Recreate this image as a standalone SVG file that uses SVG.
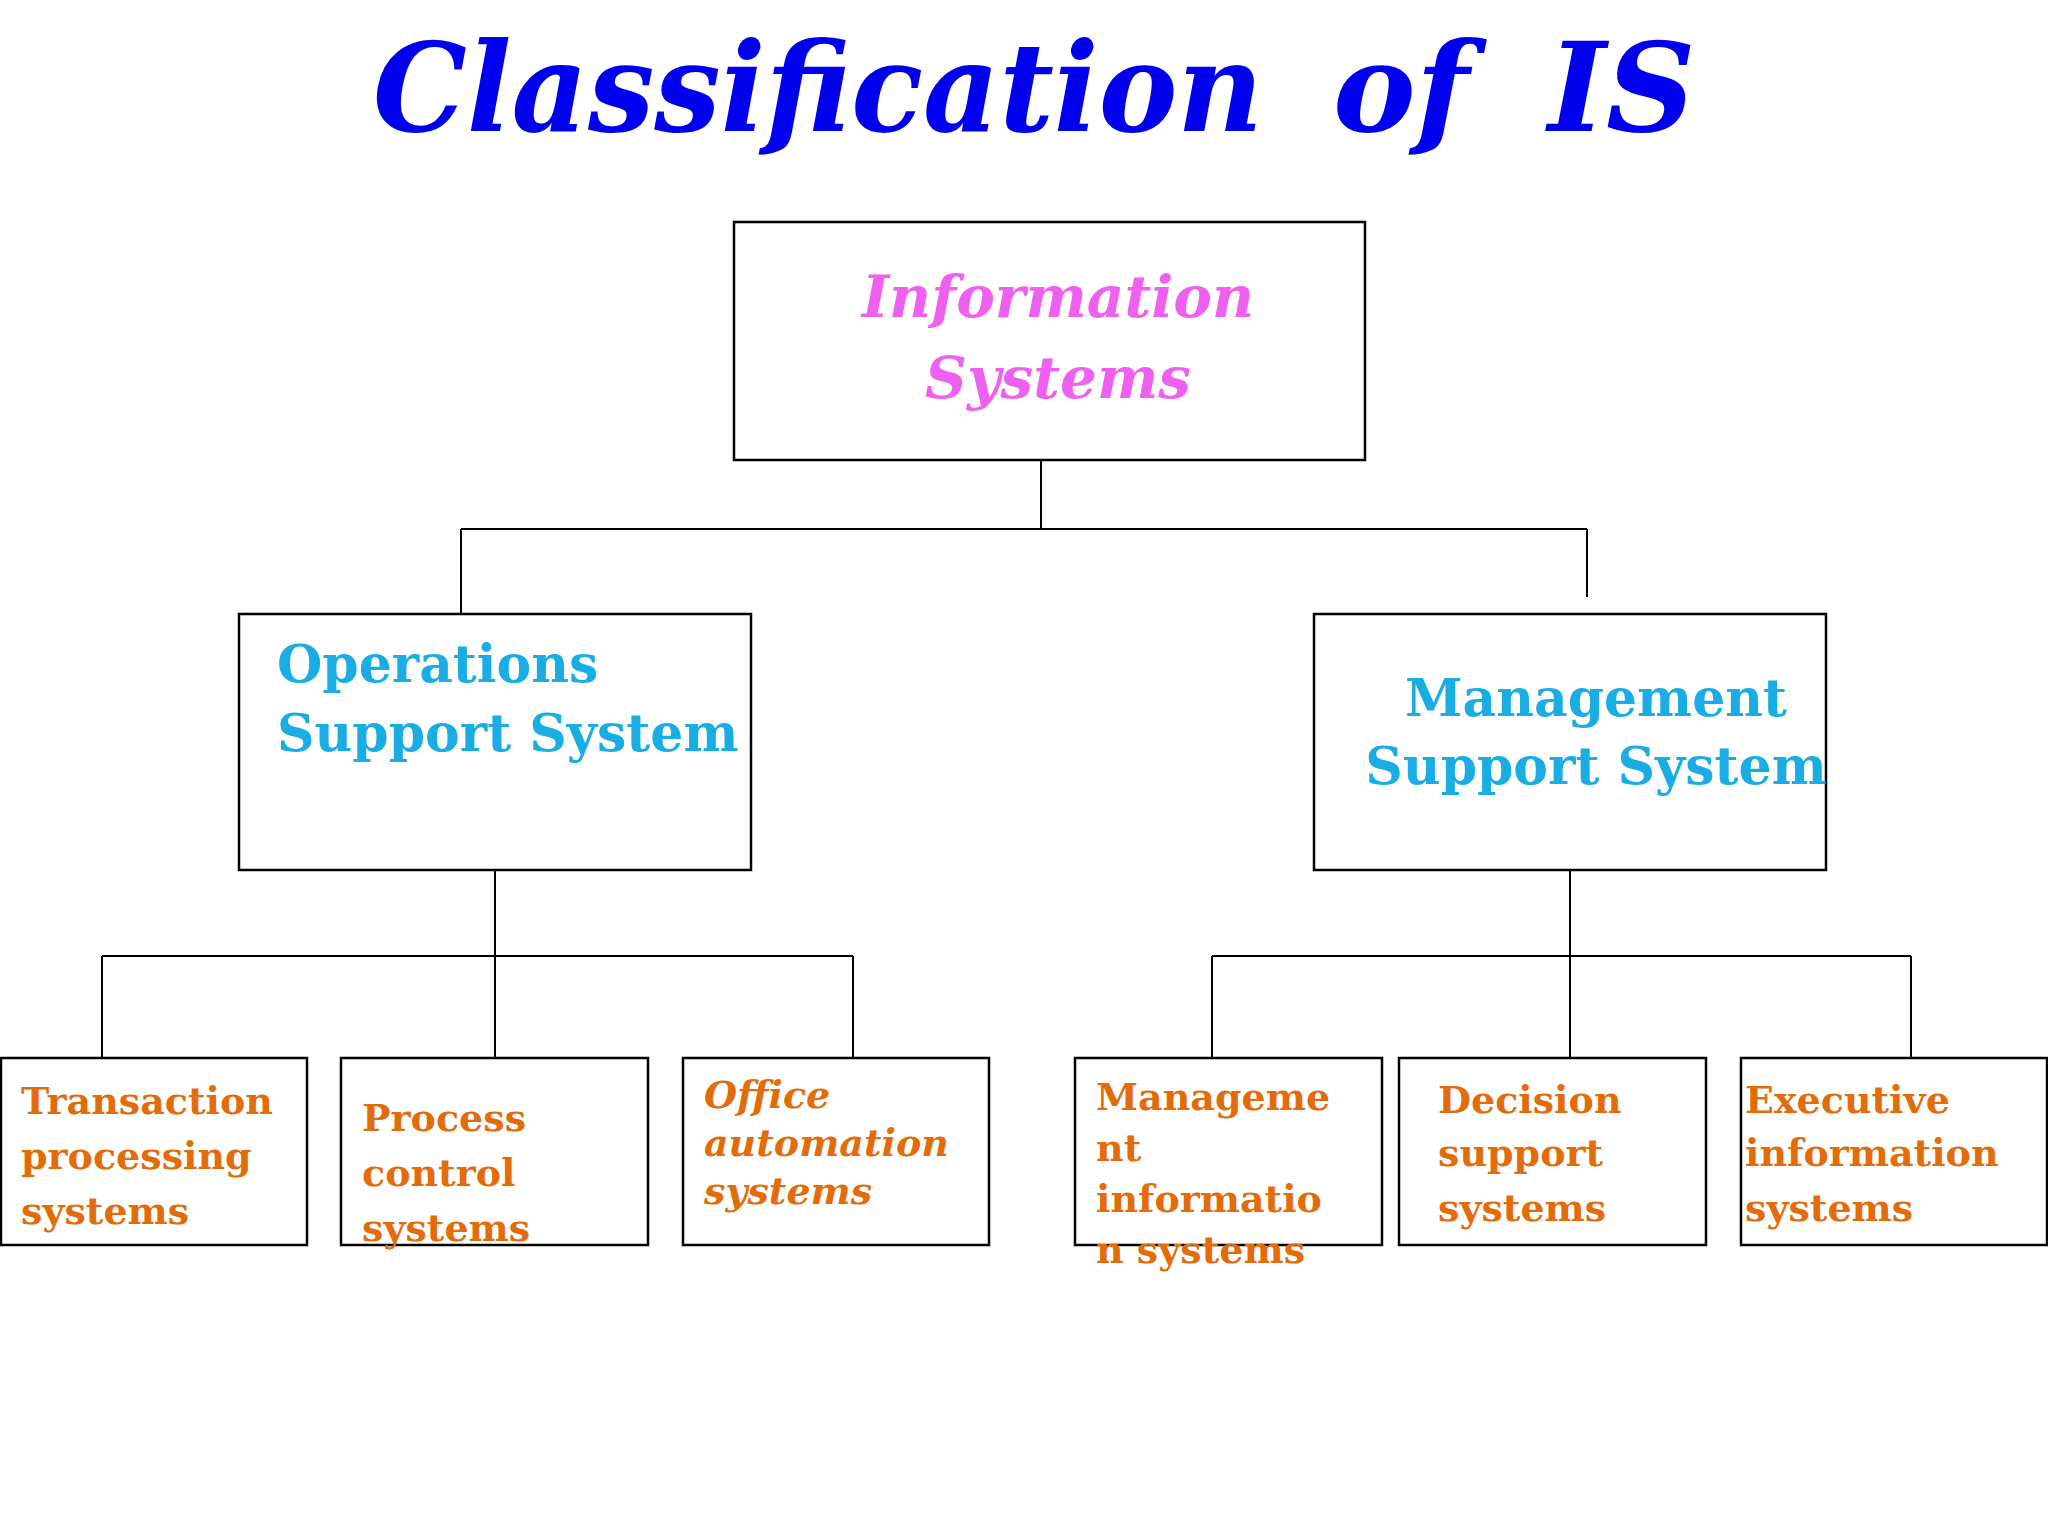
<svg xmlns="http://www.w3.org/2000/svg" width="2048" height="1536" viewBox="0 0 2048 1536">
<style>
.box{fill:#fff;stroke:#000;stroke-width:2.5}
.ln{stroke:#000;stroke-width:2;fill:none}
.t{font-family:"DejaVu Serif","Liberation Serif",serif;font-weight:bold}
.o{fill:#E36C0A;font-size:38px}
.b{fill:#1AADE4;font-size:52px}
</style>
<rect width="2048" height="1536" fill="#fff"/>
<text y="131" class="t" font-style="italic" font-size="124" fill="#0000EE"><tspan x="373" textLength="890" lengthAdjust="spacingAndGlyphs">Classification</tspan><tspan x="1333">of</tspan><tspan x="1548">IS</tspan></text>
<g id="connectors">
<path class="ln" d="M1041 460V529M461 529H1587M461 529V614M1587 529V597"/>
<path class="ln" d="M495 870V956M102 956H853M102 956V1058M495 956V1058M853 956V1058"/>
<path class="ln" d="M1570 870V956M1212 956H1911M1212 956V1058M1570 956V1058M1911 956V1058"/>
</g>
<g id="is"><rect class="box" x="734" y="222" width="631" height="238"/>
<text class="t" font-style="italic" font-size="58" fill="#F060F0" text-anchor="middle"><tspan x="1058" y="317">Information</tspan><tspan x="1058" y="398">Systems</tspan></text></g>
<g id="oss"><rect class="box" x="239" y="614" width="512" height="256"/>
<text class="t b"><tspan x="277" y="682">Operations</tspan><tspan x="277" y="751">Support System</tspan></text></g>
<g id="mss"><rect class="box" x="1314" y="614" width="512" height="256"/>
<text class="t b" text-anchor="middle"><tspan x="1596" y="716">Management</tspan><tspan x="1596" y="784">Support System</tspan></text></g>
<g id="tps"><rect class="box" x="1" y="1058" width="306" height="187"/>
<text class="t o" font-size="45"><tspan x="21" y="1114">Transaction</tspan><tspan x="21" y="1169">processing</tspan><tspan x="21" y="1224">systems</tspan></text></g>
<g id="pcs"><rect class="box" x="341" y="1058" width="307" height="187"/>
<text class="t o" font-size="38"><tspan x="362" y="1131">Process</tspan><tspan x="362" y="1186">control</tspan><tspan x="362" y="1241">systems</tspan></text></g>
<g id="oas"><rect class="box" x="683" y="1058" width="306" height="187"/>
<text class="t o" font-size="39" font-style="italic"><tspan x="704" y="1108">Office</tspan><tspan x="704" y="1156">automation</tspan><tspan x="704" y="1204">systems</tspan></text></g>
<g id="mis"><rect class="box" x="1075" y="1058" width="307" height="187"/>
<text class="t o" font-size="42"><tspan x="1096" y="1110">Manageme</tspan><tspan x="1096" y="1161">nt</tspan><tspan x="1096" y="1212">informatio</tspan><tspan x="1096" y="1263">n systems</tspan></text></g>
<g id="dss"><rect class="box" x="1399" y="1058" width="307" height="187"/>
<text class="t o" font-size="46"><tspan x="1438" y="1113">Decision</tspan><tspan x="1438" y="1166">support</tspan><tspan x="1438" y="1221">systems</tspan></text></g>
<g id="eis"><rect class="box" x="1741" y="1058" width="306" height="187"/>
<text class="t o" font-size="37"><tspan x="1745" y="1113">Executive</tspan><tspan x="1745" y="1166">information</tspan><tspan x="1745" y="1221">systems</tspan></text></g>
</svg>
